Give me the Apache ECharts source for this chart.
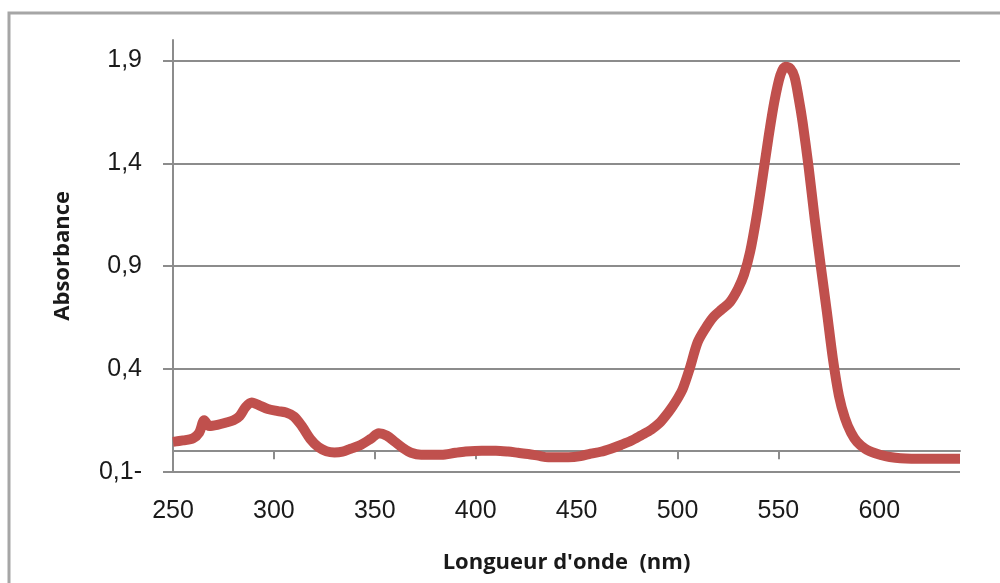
<!DOCTYPE html>
<html>
<head>
<meta charset="utf-8">
<script src="https://cdn.jsdelivr.net/npm/echarts@6/dist/echarts.min.js"></script>
<style>
  html, body { margin: 0; padding: 0; background: #fff; }
  #chart { width: 1000px; height: 583px; }
</style>
</head>
<body>
<div id="chart"></div>
<script>
// Wavelength (nm) and absorbance
var wavelengths = [250, 255, 260, 263, 265.5, 268, 272, 276, 280, 283, 286, 289, 293, 297, 302, 306, 310, 314, 318, 322, 326, 330, 334, 338, 343, 348, 352, 356, 360, 364, 368, 373, 383, 390, 395, 403, 410, 416, 421, 426, 431, 436, 446, 452, 457, 462, 467, 472, 477, 482, 487, 491, 494, 497.5, 500, 502.5, 506, 510, 514, 518, 522, 526, 530, 533, 536, 539, 542, 545, 548, 551, 553.5, 556, 558, 560, 562, 565, 568, 571, 574, 577, 580, 583, 586, 589, 593, 598, 603, 608, 613, 620, 630, 640];
var absorbance = [0.045, 0.052, 0.063, 0.09, 0.15, 0.122, 0.128, 0.138, 0.15, 0.17, 0.215, 0.237, 0.222, 0.205, 0.195, 0.188, 0.168, 0.12, 0.06, 0.02, 0.0, -0.006, -0.002, 0.012, 0.03, 0.06, 0.087, 0.075, 0.045, 0.015, -0.008, -0.018, -0.018, -0.008, -0.002, 0.002, 0.002, -0.002, -0.008, -0.014, -0.022, -0.03, -0.03, -0.024, -0.012, -0.003, 0.012, 0.03, 0.05, 0.077, 0.105, 0.136, 0.17, 0.217, 0.255, 0.3, 0.4, 0.53, 0.6, 0.655, 0.69, 0.725, 0.79, 0.86, 0.97, 1.13, 1.32, 1.52, 1.7, 1.83, 1.87, 1.86, 1.82, 1.72, 1.6, 1.38, 1.13, 0.9, 0.68, 0.45, 0.27, 0.16, 0.09, 0.045, 0.012, -0.01, -0.024, -0.032, -0.036, -0.037, -0.037, -0.037];
var xTicks = [250, 300, 350, 400, 450, 500, 550, 600];
var yTicks = [-0.1, 0.4, 0.9, 1.4, 1.9];
var xTitle = "Longueur d'onde  (nm)";
var yTitle = "Absorbance";

var seriesData = wavelengths.map(function (w, i) { return [w, absorbance[i]]; });

function fmtY(v) {
  var s = Math.abs(v).toFixed(1).replace('.', ',');
  return v < 0 ? s + '-' : s;
}

var chart = echarts.init(document.getElementById('chart'), null, { renderer: 'canvas' });
chart.setOption({
  backgroundColor: '#ffffff',
  animation: false,
  grid: { left: 173, right: 40, top: 40, bottom: 111.3, containLabel: false },
  xAxis: {
    type: 'value',
    min: 250, max: 640, interval: 50,
    name: xTitle,
    nameLocation: 'middle',
    nameGap: 80,
    nameTextStyle: { fontFamily: 'Open Sans', fontWeight: 'bold', fontSize: 22, color: '#1a1a1a' },
    axisLine: { show: true, onZero: true, lineStyle: { color: '#8c8c8c', width: 2 } },
    axisTick: { show: true, length: 8, customValues: xTicks, lineStyle: { color: '#8c8c8c', width: 2 } },
    axisLabel: { customValues: xTicks, margin: 27, fontFamily: 'Liberation Sans', fontSize: 25, color: '#1a1a1a' },
    splitLine: { show: false }
  },
  yAxis: {
    type: 'value',
    min: -0.1, max: 2.0,
    name: yTitle,
    nameLocation: 'middle',
    nameRotate: 90,
    nameGap: 99,
    nameTextStyle: { fontFamily: 'Open Sans', fontWeight: 'bold', fontSize: 22, color: '#1a1a1a' },
    axisLine: { show: true, lineStyle: { color: '#8c8c8c', width: 2 } },
    axisTick: { show: true, length: 10, customValues: yTicks, lineStyle: { color: '#8c8c8c', width: 2 } },
    axisLabel: { customValues: yTicks, margin: 31, formatter: fmtY, fontFamily: 'Liberation Sans', fontSize: 25, color: '#1a1a1a' },
    splitLine: { show: true, lineStyle: { color: '#8c8c8c', width: 2 } }
  },
  graphic: [{
    type: 'rect',
    shape: { x: 9, y: 13, width: 1100, height: 700 },
    style: { fill: 'none', stroke: '#a6a6a6', lineWidth: 3 },
    silent: true
  }],
  series: [{
    type: 'line',
    data: seriesData,
    showSymbol: false,
    smooth: 0.3,
    lineStyle: { color: '#c0504d', width: 10, join: 'round' },
    itemStyle: { color: '#c0504d' }
  }]
});
</script>
</body>
</html>
